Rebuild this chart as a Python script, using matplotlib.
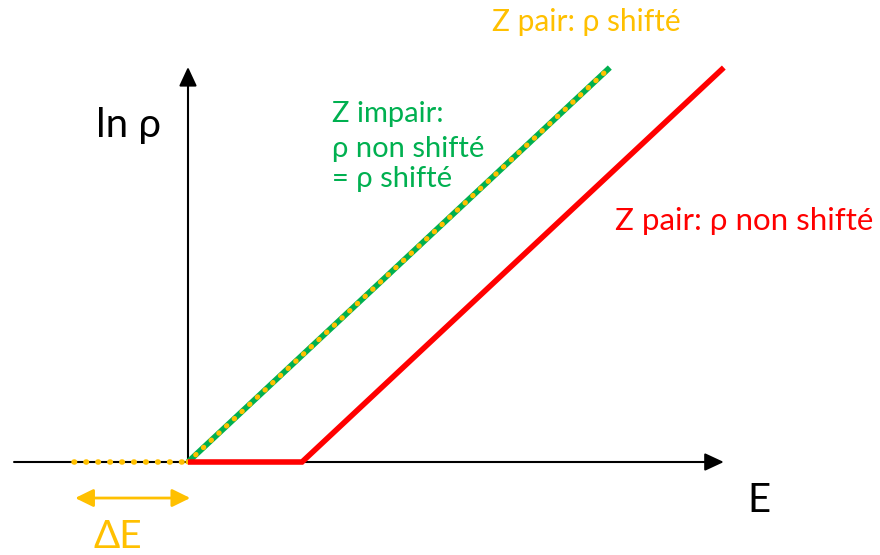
import matplotlib
matplotlib.use('Agg')
import matplotlib.pyplot as plt

plt.rcParams['font.family'] = ['Lato', 'DejaVu Sans']

# schematic level density: ln rho versus E, energies in units of the shift dE
dE = 1.0
E_shifted = [0.0, 3.7]
lnrho_shifted = [0.0, 3.46]
E_nonshifted = [0.0, dE, dE + 3.7]
lnrho_nonshifted = [0.0, 0.0, 3.46]
E_gap = [-dE, 0.0]
lnrho_gap = [0.0, 0.0]

GREEN = '#00B050'
YELLOW = '#FFC000'
RED = '#FF0000'

S = 114.0  # pixels per unit
fig = plt.figure(figsize=(8.8, 5.55), dpi=100)
ax = fig.add_axes([0, 0, 1, 1])
ax.set_xlim(-188 / S, 692 / S)
ax.set_ylim(-93 / S, 462 / S)
ax.axis('off')

head = '-|>,head_length=0.58,head_width=0.27'
ax.annotate('', xy=(4.70, 0), xytext=(-1.526, 0),
            arrowprops=dict(arrowstyle=head, lw=1.5, color='black',
                            mutation_scale=20, shrinkA=0, shrinkB=0), zorder=1)
ax.annotate('', xy=(0, 3.465), xytext=(0, 0),
            arrowprops=dict(arrowstyle=head, lw=1.5, color='black',
                            mutation_scale=20, shrinkA=0, shrinkB=0), zorder=1)

# odd Z (and even Z shifted)
ax.plot(E_shifted, lnrho_shifted, color=GREEN, lw=4.2, solid_capstyle='butt', zorder=2)
ax.plot(E_shifted, lnrho_shifted, color=YELLOW, lw=3.7, dashes=(0.1, 1.95),
        dash_capstyle='round', zorder=3)
ax.plot(E_gap, lnrho_gap, color=YELLOW, lw=4.0, dashes=(0.1, 2.05),
        dash_capstyle='round', zorder=3)
# even Z, not shifted
ax.plot(E_nonshifted, lnrho_nonshifted, color=RED, lw=4.0,
        solid_capstyle='butt', solid_joinstyle='miter', zorder=4)

# dE arrow
ax.annotate('', xy=(0.02, -0.316), xytext=(-0.99, -0.316),
            arrowprops=dict(arrowstyle='<|-|>,head_length=0.55,head_width=0.27',
                            lw=2, color=YELLOW, mutation_scale=20,
                            shrinkA=0, shrinkB=0))

ax.text(-0.807, 2.851, 'ln ρ', fontsize=29, color='black', va='baseline')
ax.text(4.904, -0.439, 'E', fontsize=29, color='black', va='baseline')
ax.text(-0.833, -0.755, 'ΔE', fontsize=28, color=YELLOW, va='baseline')

ax.text(1.263, 2.982, 'Z impair:', fontsize=21, color=GREEN, va='baseline')
ax.text(1.263, 2.675, 'ρ non shifté', fontsize=21, color=GREEN, va='baseline')
ax.text(1.263, 2.412, '= ρ shifté', fontsize=21, color=GREEN, va='baseline')
ax.text(2.667, 3.783, 'Z pair: ρ shifté', fontsize=21.5, color=YELLOW, va='baseline')
ax.text(3.746, 2.035, 'Z pair: ρ non shifté', fontsize=22.5, color=RED, va='baseline')

fig.savefig('out.png', dpi=100)
